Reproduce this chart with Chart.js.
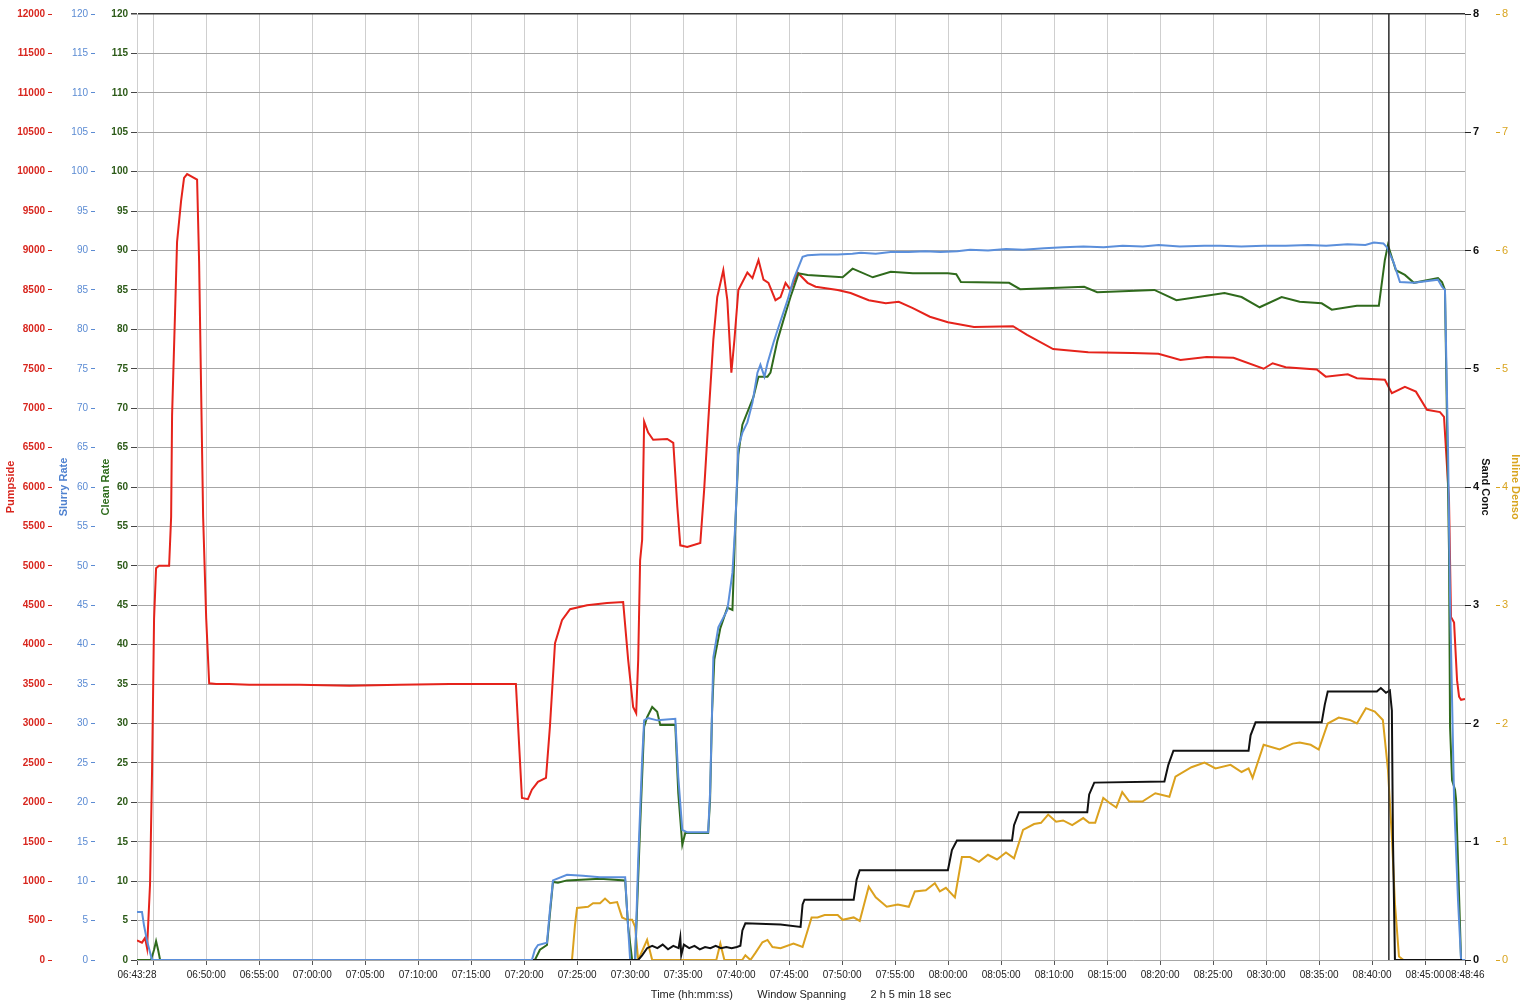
<!DOCTYPE html>
<html>
<head>
<meta charset="utf-8">
<script src="https://cdn.jsdelivr.net/npm/chart.js@4.4.0/dist/chart.umd.min.js"></script>
<style>
html, body { margin: 0; padding: 0; background: #fff; }
canvas { display: block; }
</style>
</head>
<body>
<canvas id="grafico" width="1537" height="1006"></canvas>
<script>
// tiempos en minutos desde el inicio de la ventana (06:43:28)
const horaInicio = '06:43:28'
const horaCursor = '08:41:35'
const horasEje = ['06:43:28','06:45:00','06:50:00','06:55:00','07:00:00','07:05:00','07:10:00','07:15:00','07:20:00','07:25:00','07:30:00','07:35:00','07:40:00','07:45:00','07:50:00','07:55:00','08:00:00','08:05:00','08:10:00','08:15:00','08:20:00','08:25:00','08:30:00','08:35:00','08:40:00','08:45:00','08:48:46']
const horaSinTexto = '06:45:00'

const pumpT = [0,0.47,0.76,0.95,1.23,1.42,1.61,1.80,2.08,3.03,3.22,3.31,3.59,3.78,4.16,4.44,4.73,5.67,5.86,6.05,6.24,6.53,6.81,7.47,8.70,10.59,15.32,20.05,24.78,29.51,34.24,35.75,36.32,36.88,37.26,37.83,38.59,38.96,39.44,40.10,40.86,42.46,44.35,45.87,46.34,46.81,47.10,47.29,47.47,47.66,47.85,48.23,48.70,50.03,50.60,50.98,51.26,51.92,53.15,53.51,53.89,54.38,54.75,55.32,55.70,56.08,56.37,56.74,57.59,58.07,58.64,59.11,59.58,60.24,60.72,61.19,61.66,62.32,63.27,64.03,66.11,67.33,69.04,70.65,71.87,73.20,74.81,76.51,78.97,82.65,83.98,86.44,89.75,93.91,96.37,98.45,100.91,103.46,106.30,107.15,108.38,111.31,112.16,114.24,115.10,117.74,118.40,119.63,120.67,121.71,122.94,123.32,123.79,123.98,124.27,124.55,124.74,124.93,125.30]
const pumpV = [250,220,280,150,960,2390,4330,4970,5000,5000,5620,6910,8210,9110,9630,9920,9970,9900,8860,7230,5620,4330,3510,3500,3500,3490,3490,3480,3490,3500,3500,3500,2055,2040,2160,2260,2310,2960,4020,4310,4450,4500,4530,4540,3810,3210,3130,3810,5070,5330,6830,6690,6600,6610,6560,5750,5260,5240,5290,5960,6810,7870,8410,8750,8370,7450,7870,8500,8720,8650,8880,8630,8590,8370,8410,8590,8500,8720,8590,8540,8500,8460,8370,8330,8350,8270,8160,8090,8030,8040,7930,7750,7710,7700,7690,7610,7650,7640,7500,7570,7520,7490,7400,7430,7380,7360,7190,7270,7210,6980,6950,6890,5840,4350,4280,3550,3340,3300,3310]

const slurryT = [0,0.47,0.66,0.95,1.32,1.42,37.26,37.54,37.83,38.68,38.96,39.25,40.57,42.08,43.69,46.06,46.24,46.53,47.00,47.29,47.66,47.85,48.23,49.08,50.79,51.07,51.45,51.92,53.89,54.07,54.26,54.38,54.85,55.70,56.18,56.46,56.74,57.12,57.59,58.07,58.54,58.82,59.20,59.49,60.05,60.53,61.38,61.94,62.80,63.27,64.50,66.10,67.50,68.30,69.70,71.10,72.80,74.40,75.80,77.40,78.60,80.30,82.00,83.60,85.60,87.40,89.30,91.20,93.00,94.90,96.40,98.40,100.70,102.20,104.20,106.30,108.40,110.50,112.20,114.20,115.90,116.70,117.60,117.93,118.59,119.16,120.48,122.75,123.13,123.41,123.70,123.89,124.27,124.64,124.93,125.30]
const slurryV = [6.1,6.1,4.4,2.4,0.5,0,0,1.3,1.9,2.2,6.3,10.1,10.8,10.7,10.5,10.5,6.3,0,0,12.7,25.4,30.4,30.7,30.4,30.6,23.2,16.5,16.2,16.2,21.2,31.7,38.4,42.2,44.4,49.1,55.4,65.1,66.9,68.2,70.7,74.5,75.5,74.0,75.7,78.3,80.3,83.7,86.3,89.2,89.4,89.5,89.5,89.6,89.7,89.6,89.8,89.8,89.9,89.8,89.9,90.1,90.0,90.2,90.1,90.3,90.4,90.5,90.4,90.6,90.5,90.7,90.5,90.6,90.6,90.5,90.6,90.6,90.7,90.6,90.8,90.7,91.0,90.9,90.4,88.4,86.0,85.9,86.3,85.4,85.0,64.7,45.7,20.3,7.6,0,0]

const cleanT = [0,1.32,1.61,1.80,1.99,2.18,37.54,38.02,38.68,39.25,39.72,40.57,43.69,46.06,46.34,46.72,47.00,47.47,47.85,48.13,48.61,49.08,49.37,50.79,51.07,51.45,51.73,53.89,54.07,54.26,54.47,55.04,55.70,56.18,56.46,56.74,57.12,58.16,58.64,59.49,59.77,60.43,61.00,61.66,62.42,63.27,66.58,67.52,69.42,71.12,73.20,76.51,77.30,77.74,82.28,83.32,89.37,90.60,95.99,98.07,102.61,104.22,105.92,108.00,109.70,111.78,112.73,115.10,117.17,117.74,118.03,118.78,119.63,120.48,122.75,123.13,123.41,123.79,123.89,124.08,124.36,124.46,124.93,125.30]
const cleanV = [0,0,1.3,2.4,1.3,0,0,1.3,1.9,9.9,9.8,10.1,10.3,10.1,4.2,0,0,16.9,29.6,30.8,32.1,31.5,29.8,29.8,21.2,14.6,16.1,16.1,20.3,31.5,38.1,42.1,44.7,44.4,55.4,64.1,67.9,71.4,74.0,74.0,74.5,78.6,81.2,84.1,87.1,86.9,86.6,87.7,86.6,87.3,87.1,87.1,87.0,86.0,85.9,85.1,85.4,84.7,85.0,83.7,84.6,84.1,82.8,84.1,83.5,83.3,82.5,83.0,83.0,88.8,90.7,87.5,86.9,85.9,86.5,86.0,85.0,52.0,29.6,22.8,21.6,20.3,0,0]

const sandT = [37.36,47.29,47.66,48.13,48.61,49.10,49.60,50.10,50.60,51.10,51.26,51.35,51.60,52.10,52.60,53.10,53.60,54.10,54.60,55.10,55.60,56.10,56.60,56.93,57.12,57.40,60.72,62.61,62.80,62.98,67.62,67.90,68.19,76.51,76.89,77.36,82.56,82.75,83.22,89.66,89.84,90.32,96.94,97.31,97.79,104.88,105.07,105.54,111.78,112.07,112.35,116.98,117.36,117.84,118.21,118.40,118.50,118.69,125.02]
const sandV = [0,0,0.04,0.10,0.12,0.10,0.13,0.09,0.12,0.10,0.19,0.04,0.13,0.10,0.12,0.09,0.11,0.10,0.12,0.10,0.11,0.10,0.11,0.12,0.25,0.31,0.30,0.28,0.47,0.51,0.51,0.68,0.76,0.76,0.93,1.01,1.01,1.14,1.25,1.25,1.40,1.50,1.51,1.65,1.77,1.77,1.90,2.01,2.01,2.16,2.27,2.27,2.30,2.26,2.28,2.11,1.04,0,0]

const densT = [41.04,41.33,41.52,42.56,43.03,43.69,44.16,44.64,45.30,45.77,46.24,46.72,47.00,47.29,48.13,48.61,54.66,55.04,55.42,57.10,57.40,57.88,58.35,59.01,59.49,59.96,60.72,61.94,62.80,63.65,64.21,64.88,66.11,66.58,67.62,68.19,69.04,69.70,70.74,71.78,72.82,73.39,74.43,75.28,75.75,76.32,77.17,77.83,78.59,79.44,80.29,81.14,81.99,82.75,83.60,84.64,85.30,85.97,86.72,87.38,88.24,89.28,89.84,90.41,91.17,91.74,92.40,92.96,93.63,94.86,96.08,97.41,97.98,99.49,100.72,101.76,103.18,104.22,104.88,105.26,106.30,107.81,109.04,109.70,110.74,111.50,112.35,113.39,114.43,115.10,115.95,116.79,117.55,118.03,118.40,118.69,119.07,119.50]
const densV = [0,0.30,0.44,0.45,0.48,0.48,0.52,0.48,0.49,0.36,0.34,0.34,0.28,0,0.17,0,0,0.14,0,0,0.04,0,0.06,0.15,0.17,0.11,0.10,0.14,0.11,0.36,0.36,0.38,0.38,0.34,0.36,0.33,0.62,0.53,0.45,0.47,0.45,0.58,0.59,0.65,0.58,0.61,0.53,0.87,0.87,0.83,0.89,0.85,0.91,0.86,1.10,1.15,1.16,1.23,1.17,1.18,1.14,1.20,1.16,1.16,1.37,1.33,1.29,1.42,1.34,1.34,1.41,1.38,1.55,1.63,1.67,1.62,1.65,1.59,1.62,1.54,1.82,1.78,1.83,1.84,1.82,1.78,2.00,2.05,2.03,2.00,2.13,2.10,2.03,1.61,1.04,0.48,0.03,0]

const fuente = "'Liberation Sans Narrow', 'Liberation Sans', Arial, sans-serif"
Chart.defaults.font.family = fuente
Chart.defaults.font.size = 10

function aSegundos(h) {
    var p = h.split(':')
    return parseInt(p[0])*3600 + parseInt(p[1])*60 + parseInt(p[2])
}
function aMinutos(h) {
    return (aSegundos(h) - aSegundos(horaInicio)) / 60
}
function serie(ts, vs) {
    return ts.map((t, i) => ({x: t, y: vs[i]}))
}
function linea(nombre, ts, vs, color, eje) {
    return {
        label: nombre,
        data: serie(ts, vs),
        borderColor: color,
        backgroundColor: color,
        borderWidth: 2,
        pointRadius: 0,
        tension: 0,
        fill: false,
        yAxisID: eje
    }
}
function anchoEje(w) {
    return function(scale) { scale.width = w }
}
function sinComas(v) {
    return String(v)
}

const cursor = {
    id: 'cursor',
    afterDatasetsDraw(chart) {
        const ctx = chart.ctx
        const x = chart.scales.x.getPixelForValue(aMinutos(horaCursor))
        ctx.save()
        ctx.strokeStyle = '#2a2a2a'
        ctx.lineWidth = 1.5
        ctx.beginPath()
        ctx.moveTo(x, chart.chartArea.top)
        ctx.lineTo(x, chart.chartArea.bottom)
        ctx.stroke()
        ctx.restore()
    }
}

const ctx = document.getElementById('grafico')
var grafico = new Chart(ctx, {
    type: 'line',
    data: {
        datasets: [
            linea('Sand Conc', sandT, sandV, '#111111', 'ySand'),
            linea('Slurry Rate', slurryT, slurryV, '#5b8fdb', 'ySlurry'),
            linea('Clean Rate', cleanT, cleanV, '#2f6a1c', 'yClean'),
            linea('Pumpside', pumpT, pumpV, '#e5231b', 'yPump'),
            linea('Inline Denso', densT, densV, '#dba11e', 'yDens')
        ]
    },
    plugins: [cursor],
    options: {
        responsive: false,
        animation: false,
        layout: { padding: { top: 14, left: 0, right: 0, bottom: 0 } },
        plugins: {
            legend: { display: false },
            tooltip: { enabled: false }
        },
        scales: {
            x: {
                type: 'linear',
                min: 0,
                max: aMinutos('08:48:46'),
                afterBuildTicks: function(scale) {
                    scale.ticks = horasEje.map(h => ({value: aMinutos(h)}))
                },
                afterFit: function(scale) { scale.height = 46 },
                ticks: {
                    autoSkip: false,
                    maxRotation: 0,
                    padding: 4,
                    color: '#222',
                    callback: function(v, i) {
                        return horasEje[i] == horaSinTexto ? '' : horasEje[i]
                    }
                },
                grid: { color: '#cfcfcf', tickLength: 5, tickColor: '#555' },
                border: { display: false },
                title: {
                    display: true,
                    text: 'Time (hh:mm:ss)        Window Spanning        2 h 5 min 18 sec',
                    color: '#222',
                    font: { size: 11 },
                    padding: { top: 0, bottom: 4 }
                }
            },
            yPump: {
                position: 'left', weight: 3,
                min: 0, max: 12000,
                afterFit: anchoEje(52),
                ticks: { stepSize: 500, color: '#d8261e', padding: 3, font: { weight: 'bold' }, callback: sinComas },
                grid: { drawOnChartArea: false, tickLength: 4, tickColor: '#d8261e' },
                border: { display: false },
                title: { display: true, text: 'Pumpside', color: '#d8261e', font: { size: 11, weight: 'bold' }, padding: { top: 4, bottom: 0 } }
            },
            ySlurry: {
                position: 'left', weight: 2,
                min: 0, max: 120,
                afterFit: anchoEje(43),
                ticks: { stepSize: 5, color: '#5b8bd3', padding: 3, callback: sinComas },
                grid: { drawOnChartArea: false, tickLength: 4, tickColor: '#5b8bd3' },
                border: { display: false },
                title: { display: true, text: 'Slurry Rate', color: '#4f82d0', font: { size: 11, weight: 'bold' }, padding: { top: 5, bottom: 0 } }
            },
            yClean: {
                position: 'left', weight: 1,
                min: 0, max: 120,
                afterFit: anchoEje(42),
                ticks: { stepSize: 5, color: '#2c5a18', padding: 3, font: { weight: 'bold' }, callback: sinComas },
                grid: {
                    color: c => c.tick && c.tick.value == 120 ? '#333' : '#a6a6a6',
                    lineWidth: c => c.tick && c.tick.value == 120 ? 1.5 : 1,
                    tickLength: 6,
                    tickColor: '#444'
                },
                border: { display: true, color: '#cfcfcf' },
                title: { display: true, text: 'Clean Rate', color: '#2c6a1a', font: { size: 11, weight: 'bold' }, padding: { top: 4, bottom: 0 } }
            },
            ySand: {
                position: 'right', weight: 1,
                min: 0, max: 8,
                afterFit: anchoEje(31),
                ticks: { stepSize: 1, color: '#111', padding: 2, font: { size: 11, weight: 'bold' } },
                grid: { drawOnChartArea: false, tickLength: 6, tickColor: '#222' },
                border: { display: false },
                title: { display: true, text: 'Sand Conc', color: '#111', font: { size: 11, weight: 'bold' }, padding: { top: 4, bottom: 0 } }
            },
            yDens: {
                position: 'right', weight: 2,
                min: 0, max: 8,
                afterFit: anchoEje(41),
                ticks: { stepSize: 1, color: '#d9a520', padding: 2, font: { size: 11 } },
                grid: { drawOnChartArea: false, tickLength: 4, tickColor: '#d9a520' },
                border: { display: false },
                title: { display: true, text: 'Inline Denso', color: '#d9a520', font: { size: 11, weight: 'bold' }, padding: { top: 15, bottom: 0 } }
            }
        }
    }
});
</script>
</body>
</html>
